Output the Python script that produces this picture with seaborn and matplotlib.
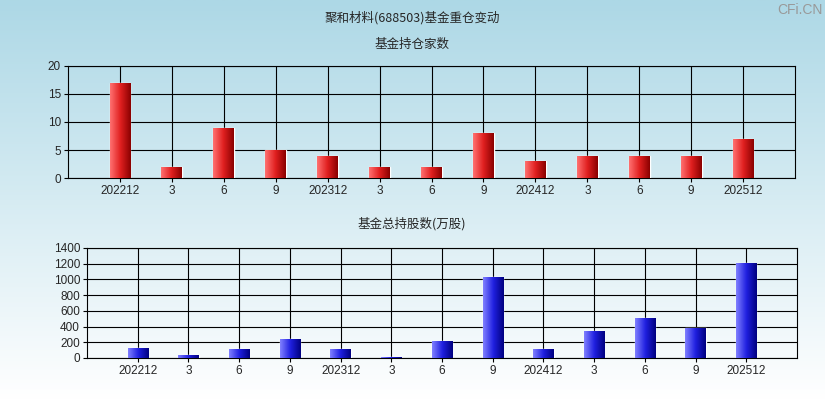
import numpy as np
import pandas as pd
import matplotlib
matplotlib.use("Agg")
import matplotlib.pyplot as plt
import seaborn as sns
from matplotlib.colors import LinearSegmentedColormap

labels = ["202212","3","6","9","202312","3","6","9","202412","3","6","9","202512"]
holders = [17,2,9,5,4,2,2,8,3,4,4,4,7]
shares = [129,42,117,242,117,17,217,1033,117,342,504,388,1204]

sns.set_style("white")
plt.rcParams['font.family'] = ['Noto Sans CJK SC', 'DejaVu Sans']

fig = plt.figure(figsize=(8.25, 4.0), dpi=100)
bg = fig.add_axes([0, 0, 1, 1], zorder=-10)
grad = np.linspace(0, 1, 256).reshape(-1, 1)
bg.imshow(grad, aspect='auto', cmap=LinearSegmentedColormap.from_list('bg', ['#add8e6', '#ffffff']), extent=[0, 1, 0, 1])
bg.axis('off')

def draw(ax, vals, cols, yticks, ylim):
    ax.patch.set_alpha(0)
    df = pd.DataFrame({"x": range(len(vals)), "v": vals})
    sns.barplot(data=df, x="x", y="v", ax=ax, color=cols[1], width=0.4, native_scale=True, zorder=3)
    cmap = LinearSegmentedColormap.from_list('b', cols)
    g = np.linspace(0, 1, 64).reshape(1, -1)
    for p in ax.patches:
        x0, y0, w, h = p.get_x(), p.get_y(), p.get_width(), p.get_height()
        im = ax.imshow(g, cmap=cmap, aspect='auto', extent=[x0, x0 + w, y0, y0 + h], zorder=4)
        im.set_clip_path(p)
    ax.set_xlim(-1, 13)
    ax.set_ylim(*ylim)
    ax.set_xticks(range(len(labels)))
    ax.set_xticklabels(labels, fontsize=8.5, family='Liberation Sans')
    ax.set_yticks(yticks)
    ax.set_yticklabels([str(t) for t in yticks], fontsize=8.5, family='Liberation Sans')
    ax.set_xlabel(""); ax.set_ylabel("")
    ax.grid(True, color='black', linewidth=0.8, zorder=0)
    ax.set_axisbelow(True)
    for s in ax.spines.values():
        s.set_color('black'); s.set_linewidth(0.8)
    ax.tick_params(axis='both', length=3, color='black', pad=2, direction='out', left=True, bottom=True)

ax1 = fig.add_axes([68/825, 1 - 178/400, 727/825, 112/400])
draw(ax1, holders, ['#ff7070', '#e02020', '#8b0000'], [0, 5, 10, 15, 20], (0, 20))
ax2 = fig.add_axes([87/825, 1 - 358/400, 710/825, 110/400])
draw(ax2, shares, ['#8080ff', '#2020e0', '#000080'], list(range(0, 1401, 200)), (0, 1400))

fig.text(412/825, 1 - 18/400, "聚和材料(688503)基金重仓变动", ha='center', va='center', fontsize=9)
fig.text(412/825, 1 - 44/400, "基金持仓家数", ha='center', va='center', fontsize=9)
fig.text(412/825, 1 - 224/400, "基金总持股数(万股)", ha='center', va='center', fontsize=9)
fig.text(800/825, 1 - 10/400, "CFi.CN", ha='center', va='center', fontsize=10, color='#999999', family='Liberation Sans')

fig.savefig("out.png", dpi=100)
